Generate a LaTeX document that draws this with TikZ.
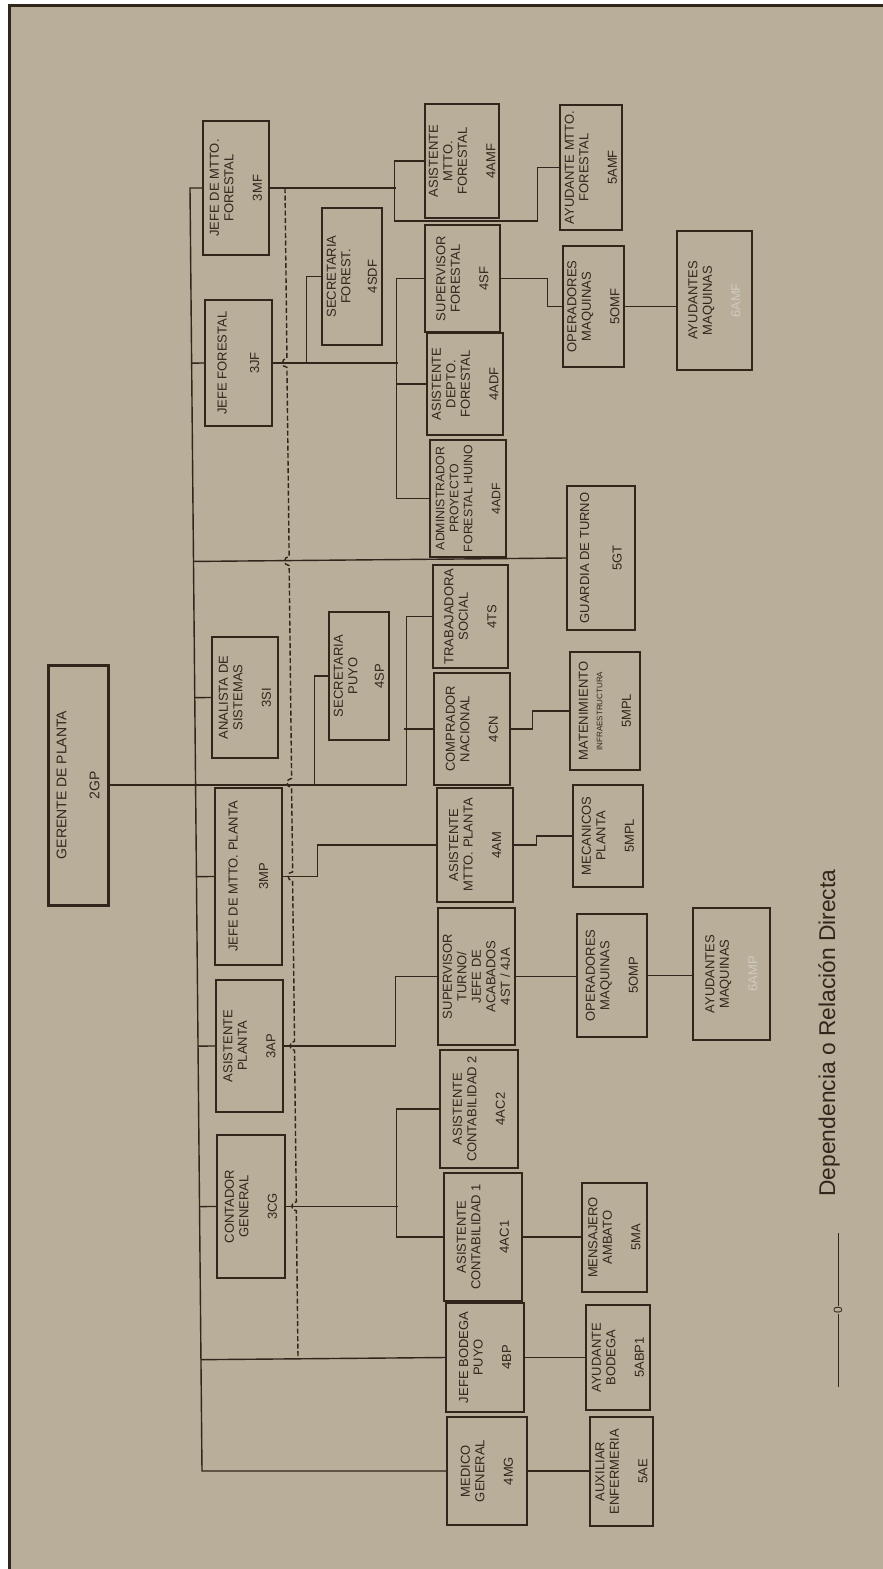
\documentclass[tikz,border=0pt]{standalone}
\usepackage{fontspec}
\setmainfont{Liberation Sans}
\usetikzlibrary{calc}
\definecolor{paper}{RGB}{184,174,154}
\definecolor{ink}{RGB}{48,38,28}
\definecolor{faint}{RGB}{208,202,192}

\begin{document}
\begin{tikzpicture}[
    x=1pt, y=-1pt,
    box/.style={draw=ink, line width=1.1pt, rotate=90, align=center, inner sep=1pt,
        font=\fontsize{13}{14.5}\selectfont, text=ink},
    boss/.style={box, line width=3pt, font=\fontsize{14}{16}\selectfont},
    link/.style={draw=ink, line width=1.4pt},
    coord/.style={link, dash pattern=on 5pt off 2.5pt}
]
    \useasboundingbox (0,0) rectangle (883,1569);
    \fill[white] (0,0) rectangle (883,1569);
    \fill[paper] (9,5) rectangle (883,1569);
    \draw[ink, line width=3pt] (9,1569) -- (9,5) -- (883,5);

    % level 2
    \node[boss, minimum width=240pt, minimum height=60pt] (gp) at (78,785) {GERENTE DE PLANTA\\[17pt]2GP};

    % level 3
    \node[box, minimum width=134pt, minimum height=66pt] (mf) at (236,188) {JEFE DE MTTO.\\FORESTAL\\[14pt]3MF};
    \node[box, minimum width=126pt, minimum height=67pt] (jf) at (238.5,363) {JEFE FORESTAL\\[18pt]3JF};
    \node[box, minimum width=121pt, minimum height=66pt] (si) at (245,697.5) {ANALISTA DE\\SISTEMAS\\[14pt]3SI};
    \node[box, minimum width=177pt, minimum height=67pt] (mp) at (248.5,876.5) {JEFE DE MTTO. PLANTA\\[16pt]3MP};
    \node[box, minimum width=132pt, minimum height=67pt] (ap) at (249.5,1046) {ASISTENTE\\PLANTA\\[14pt]3AP};
    \node[box, minimum width=143pt, minimum height=68pt] (cg) at (251,1206.5) {CONTADOR\\GENERAL\\[14pt]3CG};

    % level 4
    \node[box, minimum width=114pt, minimum height=74pt] (amf) at (462,161) {ASISTENTE\\MTTO.\\FORESTAL\\[14pt]4AMF};
    \node[box, minimum width=137pt, minimum height=60pt] (sdf) at (352,276.5) {SECRETARIA\\FOREST.\\[12pt]4SDF};
    \node[box, minimum width=107pt, minimum height=75pt] (sf) at (462.5,278.5) {SUPERVISOR\\FORESTAL\\[14pt]4SF};
    \node[box, minimum width=102pt, minimum height=76pt] (adf) at (465,384) {ASISTENTE\\DEPTO.\\FORESTAL\\[14pt]4ADF};
    \node[box, minimum width=117pt, minimum height=76pt, font=\fontsize{12.3}{14}\selectfont] (adm) at (468,498.5) {ADMINISTRADOR\\PROYECTO\\FORESTAL HUINO\\[14pt]4ADF};
    \node[box, minimum width=128pt, minimum height=60pt] (sp) at (359,676) {SECRETARIA\\PUYO\\[12pt]4SP};
    \node[box, minimum width=103pt, minimum height=75pt] (ts) at (470.5,616.5) {TRABAJADORA\\SOCIAL\\[14pt]4TS};
    \node[box, minimum width=112pt, minimum height=76pt] (cn) at (472,729) {COMPRADOR\\NACIONAL\\[14pt]4CN};
    \node[box, minimum width=114pt, minimum height=76pt] (am) at (475,845) {ASISTENTE\\MTTO. PLANTA\\[14pt]4AM};
    \node[box, minimum width=137pt, minimum height=77pt] (st) at (476.5,976.5) {SUPERVISOR\\TURNO/\\JEFE DE\\ACABADOS\\4ST / 4JA};
    \node[box, minimum width=118pt, minimum height=78pt] (ac2) at (479,1109) {ASISTENTE\\CONTABILIDAD 2\\[14pt]4AC2};
    \node[box, minimum width=128pt, minimum height=78pt] (ac1) at (483,1237) {ASISTENTE\\CONTABILIDAD 1\\[14pt]4AC1};
    \node[box, minimum width=109pt, minimum height=78pt] (bp) at (485,1357.5) {JEFE BODEGA\\PUYO\\[14pt]4BP};
    \node[box, minimum width=108pt, minimum height=80pt] (mg) at (487,1471) {MEDICO\\GENERAL\\[14pt]4MG};

    % level 5
    \node[box, minimum width=125pt, minimum height=62pt] (amf5) at (591,167.5) {AYUDANTE MTTO.\\FORESTAL\\[14pt]5AMF};
    \node[box, minimum width=121pt, minimum height=61pt] (omf) at (593.5,306.5) {OPERADORES\\MAQUINAS\\[14pt]5OMF};
    \node[box, minimum width=144pt, minimum height=68pt] (gt) at (601,558) {GUARDIA DE TURNO\\[18pt]5GT};
    \node[box, minimum width=118pt, minimum height=70pt] (mpl) at (605,711) {MATENIMIENTO\\{\fontsize{8}{9}\selectfont INFRAESTRUCTURA}\\[14pt]5MPL};
    \node[box, minimum width=102pt, minimum height=70pt] (mec) at (608,836) {MECANICOS\\PLANTA\\[14pt]5MPL};
    \node[box, minimum width=123pt, minimum height=70pt] (omp) at (612,975.5) {OPERADORES\\MAQUINAS\\[14pt]5OMP};
    \node[box, minimum width=109pt, minimum height=65pt] (ma) at (614.5,1237.5) {MENSAJERO\\AMBATO\\[14pt]5MA};
    \node[box, minimum width=105pt, minimum height=64pt] (abp) at (618,1357.5) {AYUDANTE\\BODEGA\\[14pt]5ABP1};
    \node[box, minimum width=109pt, minimum height=63pt] (ae) at (621.5,1471.5) {AUXILIAR\\ENFERMERIA\\[14pt]5AE};

    % level 6
    \node[box, minimum width=139pt, minimum height=75pt] (amf6) at (714.5,300.5) {AYUDANTES\\MAQUINAS\\[14pt]{\color{faint}6AMF}};
    \node[box, minimum width=132pt, minimum height=77pt] (amp6) at (731.5,974) {AYUDANTES\\MAQUINAS\\[14pt]{\color{faint}6AMP}};

    % main bus
    \coordinate (bustop) at (190,188);
    \coordinate (busbot) at (202,1471);
    \draw[link] (mf.north) -- (bustop) -- (busbot) -- (mg.north);
    \foreach \n in {jf,si,mp,ap,cg,gt,bp}
        \draw[link] ($(bustop)!(\n.north)!(busbot)$) -- (\n.north);

    % gerente branch
    \draw[link] (gp.south) -- ++(297,0) |- (ts.north);
    \draw[link] (cn.north) -- ++(-29,0);
    \draw[link] (sp.north) -- ++(-14,0) |- (gp.south);

    % forestal
    \draw[link] (mf.south) -- ++(126,0);
    \draw[link] (amf.north) -- ++(-30,0) |- ++(143,60) |- (amf5.north);
    \draw[link] (jf.south) -- ++(125,0);
    \draw[link] (sf.north) -- ++(-28,0) |- (adm.north);
    \draw[link] (adf.north) -- ++(-30,0);
    \draw[link] (sdf.north) -- ++(-15,0) |- (jf.south);
    \draw[link] (sf.south) -- ++(47,0) |- (omf.north);
    \draw[link] (omf.south) -- (omf.south -| amf6.north);

    % planta
    \draw[link] (cn.south) -- ++(22,0) |- (mpl.north);
    \draw[link] (mp.south) -- ++(35,0) |- (am.north);
    \draw[link] (am.south) -- ++(23,0) |- (mec.north);
    \draw[link] (ap.south) -- ++(112,0) |- (st.north);
    \draw[link] (st.south) -- (st.south -| omp.north);
    \draw[link] (omp.south) -- (omp.south -| amp6.north);
    \draw[link] (cg.south) -- ++(112,0);
    \draw[link] (ac2.north) -- ++(-43,0) |- (ac1.north);
    \draw[link] (ac1.south) -- (ac1.south -| ma.north);
    \draw[link] (bp.south) -- (bp.south -| abp.north);
    \draw[link] (mg.south) -- (mg.south -| ae.north);

    % dashed line with hops
    \coordinate (dtop) at (285,188);
    \coordinate (dbot) at (298,1357.5);
    \draw[coord] (dtop) foreach \n in {jf.south,gt.north,gp.south,mp.south,ap.south,cg.south} {
        -- ($(dtop)!(\n)!(dbot)+(0,-4.5)$) .. controls +(-6,0) and +(-6,0) .. ($(dtop)!(\n)!(dbot)+(0,4.5)$)
    } -- (dbot);

    % legend
    \coordinate (lg1) at (838,1233);
    \coordinate (lg2) at (838,1387);
    \node[rotate=90, inner sep=0.5pt, text=ink, font=\fontsize{12}{12}\selectfont] (lgo) at (838,1310) {0};
    \draw[link, line width=1pt] (lg1) -- (lgo) -- (lg2);
    \node[rotate=90, text=ink, font=\fontsize{22.8}{24}\selectfont] (lgtext) at (829,1033) {Dependencia o Relación Directa};
\end{tikzpicture}
\end{document}
